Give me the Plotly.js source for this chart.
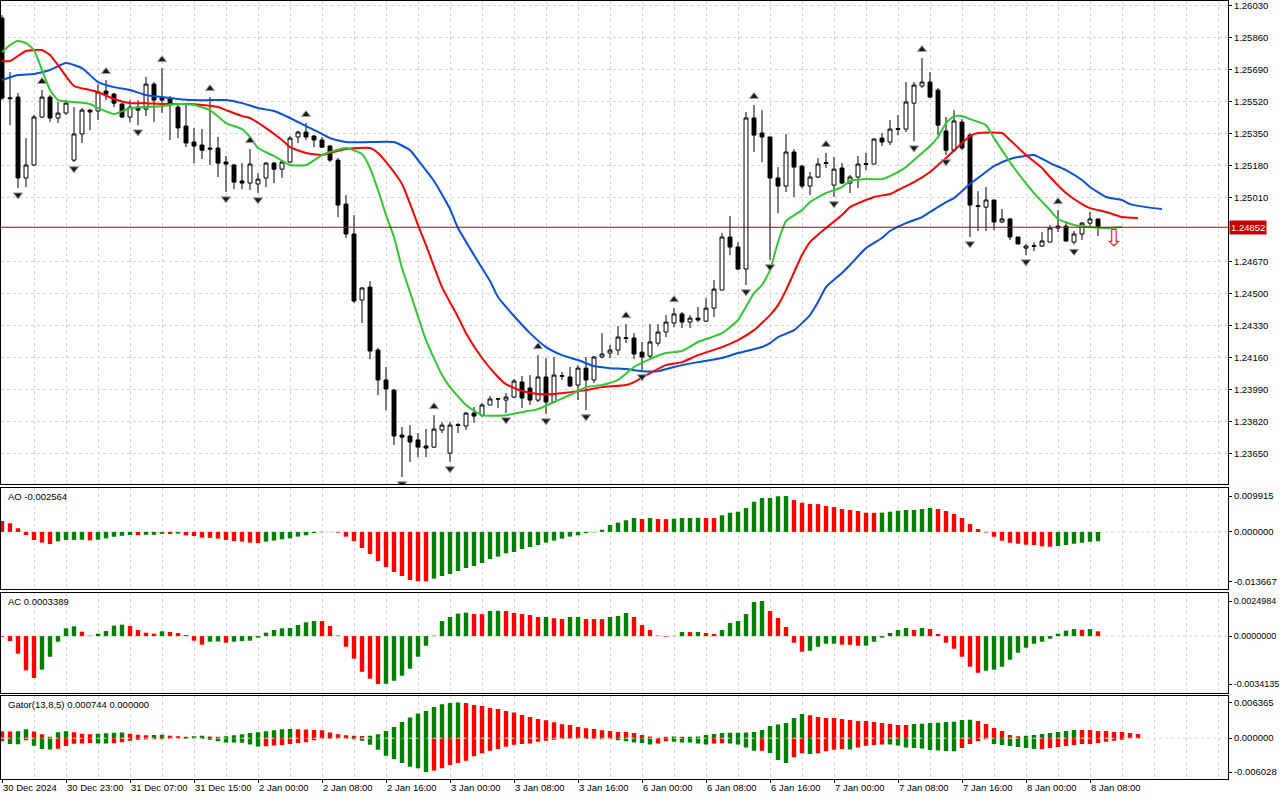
<!DOCTYPE html>
<html><head><meta charset="utf-8">
<script src="https://cdn.plot.ly/plotly-3.0.1.min.js"></script>
<style>html,body{margin:0;padding:0;background:#fff}#chart{width:1280px;height:800px}</style>
</head><body><div id="chart"></div>
<script>
const timeLabels = ["30 Dec 2024","30 Dec 23:00","31 Dec 07:00","31 Dec 15:00","2 Jan 00:00","2 Jan 08:00","2 Jan 16:00","3 Jan 00:00","3 Jan 08:00","3 Jan 16:00","6 Jan 00:00","6 Jan 08:00","6 Jan 16:00","7 Jan 00:00","7 Jan 08:00","7 Jan 16:00","8 Jan 00:00","8 Jan 08:00"];
const timeLabelBars = [0,8,16,24,32,40,48,56,64,72,80,88,96,104,112,120,128,136];
const priceTicks = [1.23650,1.23820,1.23990,1.24160,1.24330,1.24500,1.24670,1.25010,1.25180,1.25350,1.25520,1.25690,1.25860,1.26030];

const opens = [1.25964,1.25540,1.25544,1.25114,1.25183,1.25438,1.25544,1.25433,1.25459,1.25209,
1.25348,1.25475,1.25470,1.25576,1.25560,1.25507,1.25438,1.25491,1.25480,1.25613,
1.25539,1.25539,1.25491,1.25390,1.25305,1.25289,1.25273,1.25273,1.25199,1.25183,
1.25098,1.25087,1.25082,1.25114,1.25193,1.25161,1.25199,1.25332,1.25358,1.25337,
1.25316,1.25284,1.25209,1.24975,1.24816,1.24465,1.24534,1.24199,1.24040,1.23986,
1.23747,1.23742,1.23721,1.23689,1.23683,1.23774,1.23651,1.23798,1.23795,1.23864,
1.23853,1.23907,1.23938,1.23933,1.23949,1.24029,1.23997,1.23933,1.24056,1.23923,
1.24059,1.24056,1.24013,1.24103,1.24040,1.24162,1.24183,1.24199,1.24261,1.24263,
1.24188,1.24167,1.24236,1.24295,1.24343,1.24391,1.24348,1.24369,1.24353,1.24422,
1.24518,1.24800,1.24747,1.24630,1.25433,1.25353,1.25332,1.25114,1.25071,1.25252,
1.25177,1.25071,1.25119,1.25191,1.25076,1.25167,1.25087,1.25119,1.25186,1.25188,
1.25326,1.25305,1.25372,1.25374,1.25512,1.25603,1.25624,1.25581,1.25364,1.25262,
1.25411,1.25342,1.24967,1.24959,1.24997,1.24880,1.24896,1.24800,1.24741,1.24750,
1.24752,1.24773,1.24848,1.24858,1.24773,1.24816,1.24874,1.24896];
const highs = [1.25980,1.25677,1.25566,1.25326,1.25449,1.25582,1.25555,1.25518,1.25528,1.25491,
1.25486,1.25480,1.25613,1.25635,1.25566,1.25512,1.25528,1.25528,1.25651,1.25624,
1.25698,1.25550,1.25507,1.25512,1.25380,1.25374,1.25544,1.25332,1.25231,1.25188,
1.25193,1.25268,1.25140,1.25199,1.25199,1.25209,1.25337,1.25364,1.25406,1.25342,
1.25332,1.25289,1.25220,1.25023,1.24917,1.24534,1.24566,1.24210,1.24109,1.23992,
1.23790,1.23800,1.23758,1.23779,1.23853,1.23816,1.23816,1.23811,1.23869,1.23896,
1.23917,1.23955,1.23941,1.23970,1.24045,1.24061,1.24066,1.24172,1.24156,1.24162,
1.24082,1.24109,1.24119,1.24162,1.24167,1.24289,1.24226,1.24327,1.24337,1.24289,
1.24242,1.24337,1.24337,1.24385,1.24422,1.24401,1.24385,1.24428,1.24475,1.24571,
1.24821,1.24912,1.24773,1.25465,1.25502,1.25475,1.25332,1.25172,1.25348,1.25268,
1.25183,1.25146,1.25220,1.25247,1.25225,1.25193,1.25130,1.25231,1.25247,1.25326,
1.25353,1.25422,1.25449,1.25624,1.25624,1.25752,1.25677,1.25592,1.25438,1.25475,
1.25427,1.25353,1.25044,1.25066,1.24997,1.24949,1.24901,1.24800,1.24763,1.24773,
1.24826,1.24864,1.24943,1.24874,1.24832,1.24880,1.24933,1.24896];
const lows = [1.25528,1.25395,1.25060,1.25066,1.25177,1.25433,1.25411,1.25406,1.25449,1.25199,
1.25300,1.25369,1.25422,1.25528,1.25491,1.25433,1.25411,1.25395,1.25443,1.25411,
1.25459,1.25316,1.25326,1.25278,1.25193,1.25215,1.25183,1.25119,1.25039,1.25055,
1.25055,1.25050,1.25034,1.25066,1.25087,1.25114,1.25193,1.25300,1.25316,1.25278,
1.25273,1.25199,1.24906,1.24795,1.24449,1.24343,1.24151,1.23960,1.23880,1.23694,
1.23524,1.23604,1.23630,1.23630,1.23678,1.23758,1.23604,1.23758,1.23774,1.23811,
1.23843,1.23907,1.23891,1.23864,1.23944,1.23891,1.23907,1.23923,1.23859,1.23923,
1.24040,1.24002,1.23933,1.23880,1.24024,1.24156,1.24156,1.24172,1.24236,1.24151,
1.24093,1.24156,1.24220,1.24268,1.24321,1.24316,1.24316,1.24348,1.24348,1.24375,
1.24518,1.24704,1.24624,1.24545,1.25252,1.25199,1.24678,1.24927,1.25039,1.25013,
1.25060,1.25023,1.25114,1.25167,1.25013,1.25082,1.25034,1.25060,1.25156,1.25188,
1.25284,1.25289,1.25342,1.25358,1.25310,1.25592,1.25539,1.25342,1.25236,1.25252,
1.25262,1.24800,1.24832,1.24832,1.24837,1.24874,1.24784,1.24763,1.24704,1.24725,
1.24747,1.24773,1.24826,1.24775,1.24760,1.24784,1.24848,1.24805];
const closes = [1.25539,1.25536,1.25114,1.25183,1.25438,1.25544,1.25433,1.25459,1.25512,1.25348,
1.25475,1.25465,1.25571,1.25560,1.25512,1.25438,1.25491,1.25475,1.25613,1.25528,
1.25528,1.25512,1.25380,1.25300,1.25284,1.25262,1.25268,1.25193,1.25188,1.25092,
1.25087,1.25188,1.25108,1.25193,1.25161,1.25199,1.25326,1.25358,1.25332,1.25316,
1.25278,1.25209,1.24970,1.24816,1.24460,1.24529,1.24194,1.24040,1.23992,1.23742,
1.23736,1.23710,1.23683,1.23678,1.23779,1.23800,1.23800,1.23802,1.23864,1.23848,
1.23907,1.23939,1.23940,1.23949,1.24034,1.23944,1.23933,1.24056,1.23923,1.24066,
1.24063,1.24008,1.24103,1.24040,1.24162,1.24178,1.24199,1.24268,1.24265,1.24178,
1.24162,1.24242,1.24295,1.24348,1.24391,1.24348,1.24369,1.24359,1.24422,1.24523,
1.24800,1.24747,1.24630,1.25433,1.25342,1.25332,1.25114,1.25071,1.25252,1.25172,
1.25071,1.25119,1.25188,1.25195,1.25161,1.25087,1.25119,1.25188,1.25190,1.25321,
1.25305,1.25374,1.25376,1.25518,1.25608,1.25624,1.25544,1.25395,1.25262,1.25417,
1.25273,1.24970,1.24963,1.24997,1.24880,1.24896,1.24800,1.24763,1.24752,1.24754,
1.24779,1.24848,1.24858,1.24779,1.24816,1.24874,1.24896,1.24852];

const jawBars = [0,2,4,6,8,10,12,14,16,18,20,22,24,26,28,30,32,34,36,38,40,41,43,46,49,51,52,54,56,57,59,61,62,64,66,68,70,72,74,76,78,80,82,84,87,90,92,95,96,97,99,101,102,103,105,106,108,110,111,113,115,116,118,119,121,122,124,126,127,129,131,133,135,136,138,140,141,143,145];
const jawValues = [1.25635,1.25661,1.25667,1.25688,1.25725,1.25698,1.25624,1.25597,1.25582,1.25555,1.25544,1.25534,1.25528,1.25528,1.25528,1.25512,1.25486,1.25470,1.25433,1.25390,1.25348,1.25326,1.25305,1.25305,1.25305,1.25262,1.25209,1.25098,1.24949,1.24848,1.24704,1.24566,1.24481,1.24380,1.24289,1.24215,1.24172,1.24146,1.24114,1.24103,1.24098,1.24087,1.24087,1.24109,1.24135,1.24157,1.24183,1.24215,1.24236,1.24268,1.24305,1.24385,1.24454,1.24534,1.24609,1.24651,1.24741,1.24795,1.24832,1.24874,1.24906,1.24933,1.24986,1.25007,1.25082,1.25114,1.25177,1.25215,1.25225,1.25236,1.25193,1.25156,1.25103,1.25066,1.25013,1.24997,1.24975,1.24959,1.24949];
const teethBars = [0,1,3,5,6,7,9,11,12,14,16,18,20,23,25,27,28,30,31,33,35,36,38,40,41,43,46,47,48,50,52,53,55,57,58,60,62,63,65,67,69,70,73,75,78,79,81,83,85,87,90,92,94,96,97,98,100,101,103,105,106,109,111,112,114,116,117,118,120,121,122,125,126,128,130,131,133,135,136,138,140,142];
const teethValues = [1.25736,1.25736,1.25789,1.25794,1.25768,1.25714,1.25603,1.25582,1.25571,1.25534,1.25512,1.25512,1.25507,1.25507,1.25502,1.25491,1.25475,1.25443,1.25433,1.25379,1.25316,1.25278,1.25247,1.25236,1.25247,1.25268,1.25273,1.25247,1.25199,1.25082,1.24864,1.24757,1.24534,1.24375,1.24289,1.24157,1.24056,1.24018,1.23981,1.23965,1.23965,1.23970,1.23986,1.24002,1.24013,1.24029,1.24077,1.24119,1.24135,1.24172,1.24215,1.24252,1.24305,1.24385,1.24438,1.24518,1.24704,1.24773,1.24848,1.24917,1.24959,1.25013,1.25029,1.25050,1.25092,1.25146,1.25183,1.25220,1.25300,1.25337,1.25353,1.25353,1.25316,1.25236,1.25167,1.25119,1.25034,1.24975,1.24954,1.24933,1.24906,1.24901];
const lipsBars = [0,1,2,3,4,5,6,7,9,11,12,14,16,18,20,22,24,26,28,30,31,32,34,36,38,40,41,43,45,46,47,48,49,50,51,53,55,56,58,60,63,65,67,69,71,73,75,77,79,81,83,85,87,90,92,94,95,96,97,98,100,101,103,105,106,108,110,111,113,115,116,117,118,119,120,121,123,124,126,127,129,131,132,134,136,138,140];
const lipsValues = [1.25783,1.25821,1.25842,1.25831,1.25794,1.25688,1.25582,1.25528,1.25518,1.25507,1.25486,1.25454,1.25486,1.25491,1.25496,1.25507,1.25502,1.25475,1.25406,1.25374,1.25332,1.25273,1.25231,1.25183,1.25183,1.25236,1.25252,1.25273,1.25241,1.25167,1.25050,1.24917,1.24800,1.24635,1.24507,1.24252,1.24066,1.24002,1.23907,1.23853,1.23853,1.23869,1.23885,1.23923,1.23960,1.24002,1.24013,1.24040,1.24109,1.24151,1.24183,1.24194,1.24242,1.24289,1.24359,1.24502,1.24545,1.24624,1.24773,1.24885,1.24943,1.24986,1.25034,1.25066,1.25098,1.25108,1.25108,1.25124,1.25172,1.25247,1.25284,1.25332,1.25406,1.25443,1.25443,1.25427,1.25395,1.25326,1.25199,1.25140,1.25034,1.24943,1.24896,1.24864,1.24853,1.24848,1.24853];

const fractalUpBars = [5,13,20,26,31,38,54,67,78,84,94,103,115,132];
const fractalDownBars = [2,9,17,28,32,50,56,63,68,73,80,93,96,104,114,118,121,128,134];
const sellSignalBars = [139];
const sellSignalPrices = [1.24784];

const aoValues = [0.00301,0.00238,0.00100,-0.00086,-0.00224,-0.00296,-0.00335,-0.00260,-0.00224,-0.00220,
-0.00216,-0.00233,-0.00216,-0.00177,-0.00135,-0.00108,-0.00086,-0.00090,-0.00080,-0.00078,
-0.00053,-0.00056,-0.00047,-0.00094,-0.00113,-0.00158,-0.00163,-0.00185,-0.00224,-0.00252,
-0.00268,-0.00296,-0.00307,-0.00268,-0.00241,-0.00205,-0.00177,-0.00130,-0.00094,-0.00030,
-0.00010,-0.00005,-0.00019,-0.00130,-0.00252,-0.00445,-0.00611,-0.00805,-0.00971,-0.01109,
-0.01219,-0.01330,-0.01362,-0.013667,-0.01291,-0.01219,-0.01164,-0.01081,-0.00998,-0.00943,
-0.00860,-0.00749,-0.00683,-0.00592,-0.00556,-0.00473,-0.00418,-0.00362,-0.00296,-0.00241,
-0.00185,-0.00130,-0.00094,-0.00035,-0.00010,0.00060,0.00191,0.00257,0.00321,0.00384,
0.00357,0.00384,0.00357,0.00354,0.00365,0.00384,0.00387,0.00390,0.00386,0.00385,
0.00459,0.00531,0.00559,0.00661,0.00835,0.00937,0.00940,0.00985,0.009915,0.00882,
0.00807,0.00771,0.00768,0.00716,0.00688,0.00633,0.00606,0.00578,0.00531,0.00528,
0.00533,0.00559,0.00586,0.00606,0.00608,0.00633,0.00661,0.00633,0.00578,0.00495,
0.00384,0.00218,0.00080,-0.00015,-0.00133,-0.00243,-0.00299,-0.00326,-0.00354,-0.00362,
-0.00398,-0.00409,-0.00390,-0.00362,-0.00326,-0.00299,-0.00271,-0.002564];
const acValues = [-0.00005,-0.000349,-0.00125,-0.00244,-0.00298,-0.00239,-0.00147,-0.000397,0.000553,0.000695,
0.000315,0.00003,0.000173,0.000363,0.000743,0.000814,0.000719,0.000434,0.000244,0.000173,
0.000339,0.000292,0.00022,0.00008,-0.000325,-0.00061,-0.000397,-0.000385,-0.000468,-0.000397,
-0.000349,-0.000325,-0.000112,0.000244,0.000434,0.000553,0.000577,0.000791,0.000981,0.001076,
0.00107,0.000719,0.00004,-0.000755,-0.00161,-0.00254,-0.00303,-0.0034135,-0.003395,-0.00318,
-0.00282,-0.00232,-0.00147,-0.000684,0.00003,0.001076,0.00136,0.0016,0.00167,0.00157,
0.00156,0.00179,0.0018,0.00178,0.001645,0.00157,0.0015,0.00136,0.001365,0.00127,
0.00122,0.00136,0.001365,0.00122,0.001215,0.00121,0.00136,0.00143,0.001645,0.00136,
0.000791,0.000434,0.00003,-0.000043,0.00002,0.00029,0.000285,0.00029,0.00022,0.00015,
0.000434,0.000933,0.001076,0.00157,0.00243,0.0024984,0.00179,0.00129,0.000648,-0.00047,
-0.00111,-0.00104,-0.000755,-0.000541,-0.000535,-0.000613,-0.000615,-0.000684,-0.00068,-0.000399,
-0.000114,0.00022,0.000434,0.000577,0.000434,0.00058,0.000506,0.00015,-0.00047,-0.000897,
-0.00147,-0.00218,-0.00261,-0.00246,-0.00239,-0.00218,-0.00168,-0.00118,-0.000826,-0.000541,
-0.000399,-0.000185,0.00017,0.00039,0.0005,0.00045,0.0005,0.0003389];
const gatorUpper = [0.001239,0.001186,0.001240,0.001593,0.001186,0.000708,0.000266,0.001062,0.001239,0.001062,
0.000797,0.000708,0.000797,0.000885,0.000974,0.001009,0.000797,0.000620,0.000531,0.000584,
0.000620,0.000443,0.000354,0.000266,0.000319,0.000407,0.000301,0.000230,0.000354,0.000531,
0.000708,0.000938,0.001062,0.001239,0.001416,0.001593,0.001646,0.001593,0.001540,0.001469,
0.001416,0.001009,0.000708,0.000531,0.000407,0.000389,0.000443,0.000708,0.001292,0.002000,
0.002885,0.003664,0.004372,0.004832,0.005540,0.006018,0.006248,0.006365,0.006240,0.005894,
0.005717,0.005363,0.005186,0.004832,0.004549,0.004124,0.003770,0.003416,0.003186,0.002832,
0.002478,0.002354,0.002000,0.001770,0.001646,0.001416,0.001292,0.001115,0.001097,0.000938,
0.000584,0.000301,0.000053,0.000230,0.000301,0.000230,0.000248,0.000301,0.000584,0.000761,
0.000938,0.000956,0.000974,0.000991,0.001115,0.001469,0.002177,0.002425,0.002708,0.003593,
0.004301,0.004071,0.003770,0.003593,0.003575,0.003416,0.003239,0.003062,0.003044,0.002885,
0.002708,0.002531,0.002354,0.002336,0.002531,0.002549,0.002708,0.002726,0.002885,0.002903,
0.003239,0.003257,0.003062,0.002531,0.001823,0.001292,0.000584,0.000354,0.000407,0.000584,
0.000761,0.000938,0.001115,0.001292,0.001469,0.001451,0.001434,0.001292,0.001274,0.001115,
0.001097,0.000938,0.000744];
const gatorLower = [-0.000531,-0.001062,-0.001097,-0.000354,-0.001363,-0.001947,-0.002000,-0.001894,-0.001416,-0.001009,
-0.000938,-0.000885,-0.000938,-0.000974,-0.000920,-0.000708,-0.000443,-0.000266,-0.000230,-0.000177,
-0.000142,-0.000089,-0.000053,-0.000089,-0.000053,-0.000142,-0.000266,-0.000531,-0.000761,-0.000779,
-0.000797,-0.001115,-0.001505,-0.001451,-0.001328,-0.001204,-0.001062,-0.000885,-0.000708,-0.000354,
-0.000053,-0.000089,-0.000071,-0.000106,-0.000177,-0.000478,-0.001186,-0.002071,-0.003133,-0.003717,
-0.004425,-0.005080,-0.005363,-0.006028,-0.005788,-0.005363,-0.004779,-0.004425,-0.004018,-0.003239,
-0.002708,-0.002248,-0.001947,-0.001540,-0.001186,-0.001062,-0.000938,-0.000655,-0.000478,-0.000301,
-0.000124,-0.000053,-0.000089,-0.000142,-0.000106,-0.000177,-0.000089,-0.000354,-0.000531,-0.000761,
-0.000885,-0.001115,-0.000938,-0.000531,-0.000655,-0.000761,-0.000779,-0.000938,-0.001115,-0.000938,
-0.000920,-0.000938,-0.001115,-0.001646,-0.002248,-0.002230,-0.002655,-0.003894,-0.004425,-0.003416,
-0.002708,-0.002832,-0.002708,-0.002354,-0.002071,-0.001947,-0.002000,-0.001646,-0.001363,-0.001239,
-0.001115,-0.001151,-0.001292,-0.001646,-0.001770,-0.001859,-0.002124,-0.002177,-0.002301,-0.002354,
-0.001770,-0.001062,-0.000531,-0.000177,-0.001062,-0.001239,-0.001416,-0.001593,-0.001770,-0.001947,
-0.001929,-0.001770,-0.001593,-0.001416,-0.001239,-0.001062,-0.001044,-0.000885,-0.000620,-0.000443,
-0.000266];
const aoTicks = [-0.013667, 0, 0.009915];
const acTicks = [-0.0034135, 0, 0.0024984];
const gatorTicks = [-0.006028, 0, 0.006365];

// ---- styling / build ----
const GREEN = '#008000', RED = '#ff0000';
const FONT = 'Liberation Sans, Arial, sans-serif';
const tf = {family: FONT, size: 9.5, color: '#000'};
const idx = arr => arr.map((_, i) => i);
const dirColors = (vals, useAbs) => vals.map((v, i) => {
  if (i === 0) return RED;
  const a = useAbs ? Math.abs(v) : v, b = useAbs ? Math.abs(vals[i-1]) : vals[i-1];
  return a > b ? GREEN : RED;
});
const last = closes.length - 1;
const upOffset = 0.00045, downOffset = 0.00036;
const XR = [-0.125, 153.25];
const GRID = '#d6d6d6';

const traces = [
  {type:'candlestick', x: idx(opens), open: opens, high: highs, low: lows, close: closes,
   xaxis:'x', yaxis:'y', whiskerwidth:0, hoverinfo:'skip',
   increasing:{line:{color:'#000', width:1}, fillcolor:'#fff'},
   decreasing:{line:{color:'#000', width:1}, fillcolor:'#000'}},
  {type:'scatter', mode:'lines', x: jawBars, y: jawValues, xaxis:'x', yaxis:'y',
   line:{color:'#0a50d8', width:2, shape:'spline', smoothing:0.5}, hoverinfo:'skip'},
  {type:'scatter', mode:'lines', x: teethBars, y: teethValues, xaxis:'x', yaxis:'y',
   line:{color:'#ff0000', width:2, shape:'spline', smoothing:0.5}, hoverinfo:'skip'},
  {type:'scatter', mode:'lines', x: lipsBars, y: lipsValues, xaxis:'x', yaxis:'y',
   line:{color:'#33c633', width:2, shape:'spline', smoothing:0.5}, hoverinfo:'skip'},
  {type:'scatter', mode:'markers', x: fractalUpBars, y: fractalUpBars.map(b => highs[b] + upOffset),
   xaxis:'x', yaxis:'y', marker:{symbol:'triangle-up', size:8, color:'#1c1c1c', line:{color:'#a0a0a0', width:1}}, hoverinfo:'skip'},
  {type:'scatter', mode:'markers', x: fractalDownBars, y: fractalDownBars.map(b => lows[b] - downOffset),
   xaxis:'x', yaxis:'y', marker:{symbol:'triangle-down', size:8, color:'#1c1c1c', line:{color:'#a0a0a0', width:1}}, hoverinfo:'skip'},
  {type:'scatter', mode:'text', x: sellSignalBars, y: sellSignalPrices, text: sellSignalBars.map(() => '⇩'),
   textfont:{family:'DejaVu Sans', size:24, color:'#ff1a1a'}, xaxis:'x', yaxis:'y', hoverinfo:'skip'},
  {type:'bar', x: idx(aoValues), y: aoValues, xaxis:'x2', yaxis:'y2', width:0.55,
   marker:{color: dirColors(aoValues, false), line:{width:0}}, hoverinfo:'skip'},
  {type:'bar', x: idx(acValues), y: acValues, xaxis:'x3', yaxis:'y3', width:0.55,
   marker:{color: dirColors(acValues, false), line:{width:0}}, hoverinfo:'skip'},
  {type:'bar', x: idx(gatorUpper), y: gatorUpper, xaxis:'x4', yaxis:'y4', width:0.55,
   marker:{color: dirColors(gatorUpper, true), line:{width:0}}, hoverinfo:'skip'},
  {type:'bar', x: idx(gatorLower), y: gatorLower, xaxis:'x4', yaxis:'y4', width:0.55,
   marker:{color: dirColors(gatorLower, true), line:{width:0}}, hoverinfo:'skip'}
];

function xAxis(anchor, labels) {
  return {domain:[0,1], range: XR, anchor, showline:true, mirror:true, linecolor:'#000', linewidth:1,
    zeroline:false, showgrid:true, gridcolor: GRID, griddash:'3px,3px', gridwidth:1,
    tickmode:'array', tickvals: timeLabelBars, ticktext: timeLabels, tickangle:0,
    showticklabels: labels, ticks: labels ? 'outside' : '', ticklen:3, tickcolor:'#000',
    ticklabelposition:'outside right', tickfont: tf, fixedrange:true, automargin:false,
    minor:{tickmode:'linear', tick0:0, dtick:4, showgrid:true, gridcolor: GRID, griddash:'3px,3px', ticks:''},
    rangeslider:{visible:false}};
}
function yAxis(anchor, domain, range, tickvals, ticktext, grid, fontSize) {
  return {domain, range, anchor, side:'right', showline:true, mirror:true, linecolor:'#000', linewidth:1,
    zeroline:false, showgrid: grid, gridcolor: GRID, griddash:'3px,3px',
    tickmode:'array', tickvals, ticktext, ticks:'outside', ticklen:3, tickcolor:'#000',
    ticklabelstandoff:0, tickfont: Object.assign({}, tf, {size: fontSize}), fixedrange:true, automargin:false};
}
const fmt = (arr, d) => arr.map(v => v.toFixed(d));

const layout = {
  width:1280, height:800, margin:{l:1, r:52, t:1, b:21},
  paper_bgcolor:'#fff', plot_bgcolor:'#fff', showlegend:false, barmode:'overlay',
  font:{family: FONT, size:9.5, color:'#000'},
  xaxis: xAxis('y', false), xaxis2: xAxis('y2', false), xaxis3: xAxis('y3', false), xaxis4: xAxis('y4', true),
  yaxis: yAxis('x', [0.3792, 1], [1.23487, 1.26055], priceTicks, fmt(priceTicks, 5), true, 9.5),
  yaxis2: yAxis('x2', [0.2442, 0.3740], [-0.015787, 0.012137], aoTicks, fmt(aoTicks, 6), false, 9.5),
  yaxis3: yAxis('x3', [0.1105, 0.2391], [-0.004053, 0.003070], acTicks, fmt(acTicks, 7), false, 9),
  yaxis4: yAxis('x4', [0, 0.1073], [-0.007274, 0.007593], gatorTicks, fmt(gatorTicks, 6), false, 9.5),
  shapes: [
    {type:'line', xref:'paper', x0:0, x1:1, yref:'y', y0: closes[last], y1: closes[last], line:{color:'#b40000', width:1}},
    {type:'line', xref:'paper', x0:0, x1:1, yref:'y2', y0:0, y1:0, line:{color:'#d0d0d0', width:1, dash:'3px,3px'}, layer:'below'},
    {type:'line', xref:'paper', x0:0, x1:1, yref:'y3', y0:0, y1:0, line:{color:'#d0d0d0', width:1, dash:'3px,3px'}, layer:'below'},
    {type:'line', xref:'paper', x0:0, x1:1, yref:'y4', y0:0, y1:0, line:{color:'#d8d8d8', width:1, dash:'3px,3px'}, layer:'above'}
  ],
  annotations: [
    {xref:'paper', yref:'y', x:1, y: closes[last], xanchor:'left', yanchor:'middle', xshift:1,
     text: closes[last].toFixed(5), showarrow:false, bgcolor:'#c80000', borderpad:1,
     font:{family: FONT, size:9.5, color:'#fff'}},
    {xref:'paper', yref:'paper', x:0.004, y:0.3629, xanchor:'left', yanchor:'middle', showarrow:false,
     text:'AO ' + aoValues[aoValues.length-1].toFixed(6), font: tf},
    {xref:'paper', yref:'paper', x:0.004, y:0.2279, xanchor:'left', yanchor:'middle', showarrow:false,
     text:'AC ' + acValues[acValues.length-1].toFixed(7), font: tf},
    {xref:'paper', yref:'paper', x:0.004, y:0.0955, xanchor:'left', yanchor:'middle', showarrow:false,
     text:'Gator(13,8,5) ' + gatorUpper[gatorUpper.length-1].toFixed(6) + ' ' +
       (gatorLower.length < gatorUpper.length ? 0 : Math.abs(gatorLower[gatorLower.length-1])).toFixed(6), font: tf}
  ]
};

Plotly.newPlot('chart', traces, layout, {displayModeBar:false, staticPlot:true});
</script>
</body></html>
